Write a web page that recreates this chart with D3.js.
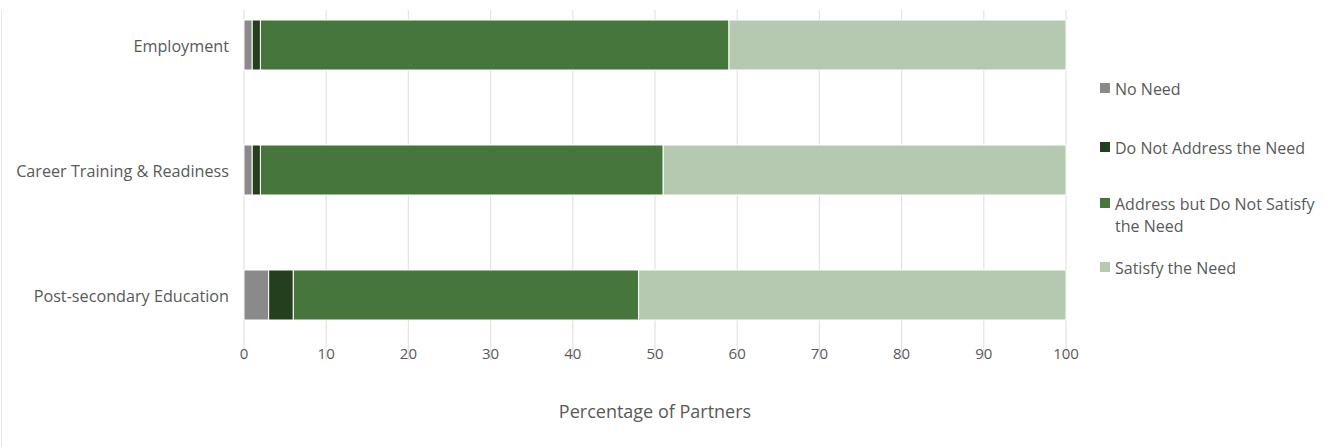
<!DOCTYPE html>
<html>
<head>
<meta charset="utf-8">
<script src="https://cdn.jsdelivr.net/npm/d3@7"></script>
<style>
  html, body { margin: 0; padding: 0; background: #fff; }
  svg { display: block; font-family: "Open Sans", "Lato", sans-serif; }
</style>
</head>
<body>
<svg id="chart" width="1333" height="447"></svg>
<script>
// Need categories, top to bottom
const categories = ["Employment", "Career Training & Readiness", "Post-secondary Education"];

// Stacked series (percent of partners)
const seriesNames = ["No Need", "Do Not Address the Need", "Address but Do Not Satisfy the Need", "Satisfy the Need"];
const noNeed       = [1, 1, 3];
const doNotAddress = [1, 1, 3];
const addressOnly  = [57, 49, 42];
const satisfy      = [41, 49, 52];

const xTicks = [0, 10, 20, 30, 40, 50, 60, 70, 80, 90, 100];
const colors = ["#8a8a8a", "#243f1e", "#46763b", "#b5c9b0"];

const svg = d3.select("#chart");
const textColor = "#595959";

const margin = { left: 244, right: 1066, top: 10, bottom: 330 };
const x = d3.scaleLinear().domain([0, 100]).range([margin.left, margin.right]);
const y = d3.scaleBand().domain(categories).range([margin.top, margin.bottom])
  .paddingInner(0.6).paddingOuter(0.08);

// thin frame line on the left edge
svg.append("line").attr("x1", 1.5).attr("x2", 1.5).attr("y1", 10).attr("y2", 447)
  .attr("stroke", "#e6e6e6").attr("stroke-width", 1);

// vertical gridlines
svg.append("g").selectAll("line").data(xTicks).join("line")
  .attr("x1", d => x(d)).attr("x2", d => x(d))
  .attr("y1", 10).attr("y2", 360)
  .attr("stroke", "#e3e3e3").attr("stroke-width", 1.2);

// stacked bars
const rows = categories.map((c, i) => ({
  cat: c,
  "No Need": noNeed[i],
  "Do Not Address the Need": doNotAddress[i],
  "Address but Do Not Satisfy the Need": addressOnly[i],
  "Satisfy the Need": satisfy[i]
}));
const stacked = d3.stack().keys(seriesNames)(rows);

svg.append("g").selectAll("g").data(stacked).join("g")
  .attr("fill", (d, i) => colors[i])
  .selectAll("rect").data(d => d).join("rect")
  .attr("x", d => x(d[0]))
  .attr("width", d => x(d[1]) - x(d[0]))
  .attr("y", d => y(d.data.cat))
  .attr("height", y.bandwidth())
  .attr("stroke", "#ffffff").attr("stroke-width", 1);

// category labels
svg.append("g").selectAll("text").data(categories).join("text")
  .attr("x", 229).attr("y", d => y(d) + y.bandwidth() / 2 + 1)
  .attr("dy", "0.35em").attr("text-anchor", "end")
  .attr("fill", textColor).attr("font-size", 16.2)
  .text(d => d);

// x tick labels
svg.append("g").selectAll("text").data(xTicks).join("text")
  .attr("x", d => x(d)).attr("y", 354).attr("dy", "0.35em")
  .attr("text-anchor", "middle").attr("fill", textColor).attr("font-size", 15)
  .text(d => d);

// axis title
svg.append("text")
  .attr("x", (margin.left + margin.right) / 2).attr("y", 412).attr("dy", "0.35em")
  .attr("text-anchor", "middle").attr("fill", textColor).attr("font-size", 18)
  .text("Percentage of Partners");

// legend
const legendRows = [
  { name: "No Need", lines: ["No Need"], y: 88 },
  { name: "Do Not Address the Need", lines: ["Do Not Address the Need"], y: 147 },
  { name: "Address but Do Not Satisfy the Need", lines: ["Address but Do Not Satisfy", "the Need"], y: 203 },
  { name: "Satisfy the Need", lines: ["Satisfy the Need"], y: 267 }
];
const lg = svg.append("g").selectAll("g").data(legendRows).join("g")
  .attr("transform", d => `translate(1100,${d.y})`);
lg.append("rect").attr("x", 0).attr("y", -5).attr("width", 10).attr("height", 10)
  .attr("fill", d => colors[seriesNames.indexOf(d.name)]);
lg.append("text").attr("x", 15).attr("fill", textColor).attr("font-size", 16)
  .selectAll("tspan").data(d => d.lines).join("tspan")
  .attr("x", 15).attr("y", (d, i) => i * 22 + 1).attr("dy", "0.35em")
  .text(d => d);
</script>
</body>
</html>
